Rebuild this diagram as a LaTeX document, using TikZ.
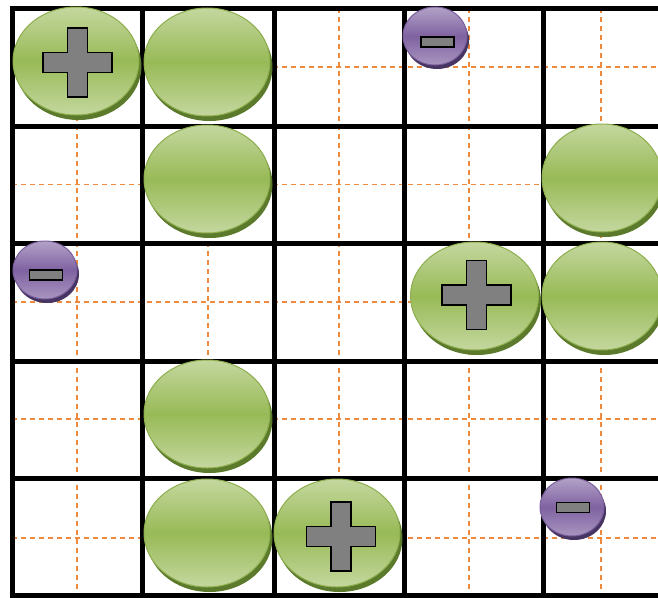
\documentclass[tikz,border=0pt]{standalone}
\usetikzlibrary{shapes.geometric,shadows}
\definecolor{glight}{HTML}{C4D79F}
\definecolor{gmid}{HTML}{98BA56}
\definecolor{gedge}{HTML}{8DAE4C}
\definecolor{gshadow}{HTML}{5C7A2C}
\definecolor{plight}{HTML}{B3A2C7}
\definecolor{pmid}{HTML}{7F62A1}
\definecolor{pedge}{HTML}{7A5E9C}
\definecolor{pshadow}{HTML}{463462}
\definecolor{orangeguide}{HTML}{EE8A3E}
\definecolor{crossgray}{HTML}{808080}
\begin{document}
\begin{tikzpicture}[x=1pt,y=-1pt,
  gball/.style={ellipse, inner sep=0pt, minimum width=126pt, minimum height=108pt,
    top color=glight, bottom color=glight, middle color=gmid, draw=gedge, line width=1pt,
    drop shadow={shadow xshift=2.5pt, shadow yshift=-5pt, fill=gshadow, opacity=1}},
  gballr/.style={gball, minimum width=120pt},
  pball/.style={ellipse, inner sep=0pt, minimum width=64pt, minimum height=58pt,
    top color=plight, bottom color=plight!80!pmid, middle color=pmid, draw=pedge, line width=1pt,
    drop shadow={shadow xshift=2pt, shadow yshift=-4pt, fill=pshadow, opacity=1}},
  minusbar/.style={rectangle, inner sep=0pt, minimum width=33pt, minimum height=10pt,
    fill=crossgray, draw=black, line width=1.3pt},
  gridline/.style={line width=5pt, draw=black},
  guide/.style={draw=orangeguide, line width=1.3pt, dash pattern=on 5pt off 4pt},
  plussign/.pic={\draw[fill=crossgray, line width=1.3pt]
    (-10,-34.5) -- (10,-34.5) -- (10,-10) -- (34.5,-10) -- (34.5,10) -- (10,10) --
    (10,34.5) -- (-10,34.5) -- (-10,10) -- (-34.5,10) -- (-34.5,-10) -- (-10,-10) -- cycle;}
]
\useasboundingbox (0,0) rectangle (658,597);
\clip (0,0) rectangle (658,597);
\fill[white] (0,0) rectangle (658,597);

% orange guide lines
\foreach \gx in {77,208,339,469,601} \draw[guide] (\gx,8) -- (\gx,597);
\foreach \gy in {67,184.5,302,419,538} \draw[guide] (12,\gy) -- (658,\gy);

% thick grid
\foreach \gx in {12,142,274.5,404,543} \draw[gridline] (\gx,5.5) -- (\gx,598);
\foreach \gy in {8,126,243,361,478,595.5} \draw[gridline] (9.5,\gy) -- (660,\gy);

% green balls
\node[gball] (g11) at (76,61) {};
\node[gball] (g12) at (207,62) {};
\node[gball] (g22) at (207,179) {};
\node[gballr] (g25) at (602,178) {};
\node[gball, minimum width=128pt] (g34) at (474.5,296) {};
\node[gballr] (g35) at (602,296) {};
\node[gball] (g42) at (207,414) {};
\node[gball] (g52) at (207,533) {};
\node[gball] (g53) at (337,533) {};

% plus signs
\pic at (77.5,62.5) {plussign};
\pic at (476.5,295) {plussign};
\pic at (341,536.5) {plussign};

% purple balls
\node[pball] (p14) at (435,36) {};
\node[minusbar] (m14) at (437.5,42) {};
\node[pball] (p31) at (45,270) {};
\node[minusbar] (m31) at (46,275) {};
\node[pball] (p55) at (572,507) {};
\node[minusbar] (m55) at (573,507.5) {};
\end{tikzpicture}
\end{document}
